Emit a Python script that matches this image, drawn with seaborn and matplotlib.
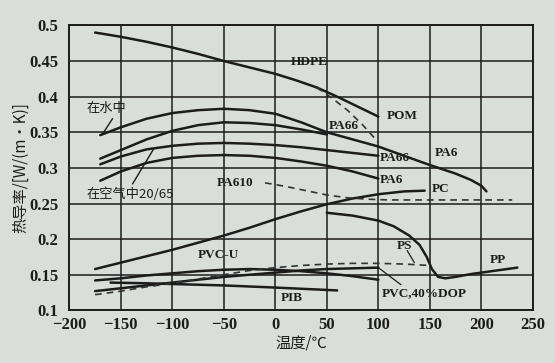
import matplotlib
matplotlib.use('Agg')
import matplotlib.pyplot as plt
import seaborn as sns

# Données (température en °C, conductivité en W/(m·K))
hdpe_x = [-175, -150, -125, -100, -75, -50, -25, 0, 20, 40]
hdpe_y = [0.490, 0.484, 0.477, 0.469, 0.460, 0.450, 0.441, 0.432, 0.423, 0.413]
hdpe_dash_x = [40, 55, 70, 85, 100]
hdpe_dash_y = [0.413, 0.398, 0.381, 0.360, 0.336]
pom_x = [40, 60, 80, 100]
pom_y = [0.413, 0.400, 0.386, 0.372]

pa6_water_x = [-170, -150, -125, -100, -75, -50, -25, 0, 25, 50, 75, 100, 125, 150, 175, 190, 200, 205]
pa6_water_y = [0.346, 0.357, 0.369, 0.377, 0.381, 0.383, 0.381, 0.376, 0.364, 0.350, 0.340, 0.330,
               0.317, 0.304, 0.292, 0.283, 0.275, 0.267]
pa66_water_x = [-170, -150, -125, -100, -75, -50, -25, 0, 25, 50]
pa66_water_y = [0.313, 0.325, 0.340, 0.352, 0.360, 0.364, 0.363, 0.360, 0.354, 0.347]
pa66_air_x = [-170, -150, -125, -100, -75, -50, -25, 0, 25, 50, 75, 100]
pa66_air_y = [0.305, 0.316, 0.326, 0.331, 0.334, 0.335, 0.334, 0.332, 0.329, 0.325, 0.321, 0.317]
pa6_air_x = [-170, -150, -125, -100, -75, -50, -25, 0, 25, 50, 75, 100]
pa6_air_y = [0.282, 0.295, 0.307, 0.314, 0.317, 0.318, 0.317, 0.314, 0.309, 0.303, 0.295, 0.285]

pa610_x = [-10, 10, 30, 50, 70, 90, 110, 140, 170, 200, 230]
pa610_y = [0.279, 0.274, 0.268, 0.262, 0.258, 0.256, 0.255, 0.255, 0.255, 0.255, 0.255]

pc_x = [-175, -150, -125, -100, -75, -50, -25, 0, 25, 50, 75, 100, 125, 145]
pc_y = [0.158, 0.167, 0.176, 0.185, 0.195, 0.205, 0.216, 0.228, 0.239, 0.249, 0.257, 0.263, 0.267, 0.268]

pp_x = [50, 75, 100, 115, 130, 140, 147, 152, 158, 165, 175, 190, 210, 235]
pp_y = [0.237, 0.233, 0.226, 0.218, 0.205, 0.192, 0.175, 0.158, 0.147, 0.145, 0.147, 0.151, 0.155, 0.160]

ps_x = [-175, -150, -125, -100, -75, -50, -25, 0, 25, 50, 75, 100, 125, 150]
ps_y = [0.122, 0.127, 0.133, 0.138, 0.144, 0.150, 0.156, 0.160, 0.163, 0.165, 0.166, 0.166, 0.165, 0.163]

pvc_dop_x = [-175, -150, -125, -100, -75, -50, -25, 0, 25, 50, 75, 100]
pvc_dop_y = [0.127, 0.131, 0.135, 0.139, 0.143, 0.147, 0.150, 0.153, 0.156, 0.158, 0.159, 0.160]

pvc_u_x = [-175, -150, -125, -100, -75, -50, -25, 0, 25, 50, 75, 100]
pvc_u_y = [0.142, 0.145, 0.149, 0.152, 0.155, 0.157, 0.158, 0.157, 0.155, 0.152, 0.148, 0.143]

pib_x = [-160, -125, -100, -50, 0, 30, 60]
pib_y = [0.139, 0.138, 0.137, 0.135, 0.132, 0.130, 0.128]

x_ticks = [-200, -150, -100, -50, 0, 50, 100, 150, 200, 250]
y_ticks = [0.1, 0.15, 0.2, 0.25, 0.3, 0.35, 0.4, 0.45, 0.5]
y_tick_labels = ['0.1', '0.15', '0.2', '0.25', '0.3', '0.35', '0.4', '0.45', '0.5']

BG = '#dadeda'
INK = '#1c1c1c'
CJK = ['Noto Sans CJK SC', 'DejaVu Sans']
SERIF = ['Liberation Serif', 'DejaVu Serif']

sns.set_theme(style='white')
plt.rcParams['font.family'] = SERIF

fig = plt.figure(figsize=(5.55, 3.63), dpi=100, facecolor=BG)
ax = fig.add_axes([0.125, 0.145, 0.835, 0.785], facecolor=BG)

solides = [
    (hdpe_x, hdpe_y), (pom_x, pom_y),
    (pa6_water_x, pa6_water_y), (pa66_water_x, pa66_water_y),
    (pa66_air_x, pa66_air_y), (pa6_air_x, pa6_air_y),
    (pc_x, pc_y), (pp_x, pp_y),
    (pvc_dop_x, pvc_dop_y), (pvc_u_x, pvc_u_y), (pib_x, pib_y),
]
for xs, ys in solides:
    sns.lineplot(x=xs, y=ys, ax=ax, color=INK, lw=1.8, sort=False, legend=False)

pointilles = [(hdpe_dash_x, hdpe_dash_y), (pa610_x, pa610_y), (ps_x, ps_y)]
for xs, ys in pointilles:
    sns.lineplot(x=xs, y=ys, ax=ax, color='#333333', lw=1.2, sort=False,
                 legend=False, linestyle=(0, (4, 3)))

ax.set_xlim(-200, 250)
ax.set_ylim(0.1, 0.5)
ax.set_xticks(x_ticks)
ax.set_yticks(y_ticks)
ax.set_yticklabels(y_tick_labels)
ax.set_xticklabels([str(t).replace('-', '\u2212') for t in x_ticks])
ax.tick_params(length=0, labelsize=12, colors=INK)
ax.tick_params(axis='y', pad=8)
ax.tick_params(axis='x', pad=5)
for lab in ax.get_xticklabels() + ax.get_yticklabels():
    lab.set_fontweight('bold')

ax.grid(True, color=INK, lw=1.1)
for sp in ax.spines.values():
    sp.set_color(INK)
    sp.set_linewidth(1.4)

ax.set_xlabel('温度/℃', family=CJK, fontsize=11, color=INK, labelpad=1)
ax.set_ylabel('热导率/[W/(m·K)]', family=CJK, fontsize=11, color=INK, labelpad=0)

# Étiquettes des courbes
txt = dict(fontsize=9.5, color=INK, fontweight='bold')
ax.text(15, 0.444, 'HDPE', **txt)
ax.text(108, 0.368, 'POM', **txt)
ax.text(52, 0.354, 'PA66', **txt)
ax.text(101, 0.310, 'PA66', **txt)
ax.text(101, 0.279, 'PA6', **txt)
ax.text(155, 0.316, 'PA6', **txt)
ax.text(152, 0.266, 'PC', **txt)
ax.text(-57, 0.274, 'PA610', **txt)
ax.text(118, 0.186, 'PS', **txt)
ax.text(208, 0.166, 'PP', **txt)
ax.text(-75, 0.174, 'PVC-U', **txt)
ax.text(103, 0.120, 'PVC,40%DOP', **txt)
ax.text(5, 0.113, 'PIB', **txt)

ax.annotate('在水中', xy=(-168, 0.347), xytext=(-183, 0.378), family=CJK,
            fontsize=9.5, color=INK,
            arrowprops=dict(arrowstyle='-', color=INK, lw=1, shrinkA=0, shrinkB=0,
                            relpos=(0.7, 0.0)))
ax.annotate('在空气中20/65', xy=(-118, 0.327), xytext=(-183, 0.258), family=CJK,
            fontsize=9.5, color=INK,
            arrowprops=dict(arrowstyle='-', color=INK, lw=1, shrinkA=0, shrinkB=0,
                            relpos=(0.5, 1.0)))
ax.plot([128, 135], [0.184, 0.167], color=INK, lw=0.9)
ax.plot([100, 122], [0.160, 0.136], color=INK, lw=0.9)

fig.savefig('out.png', dpi=100, facecolor=BG)
